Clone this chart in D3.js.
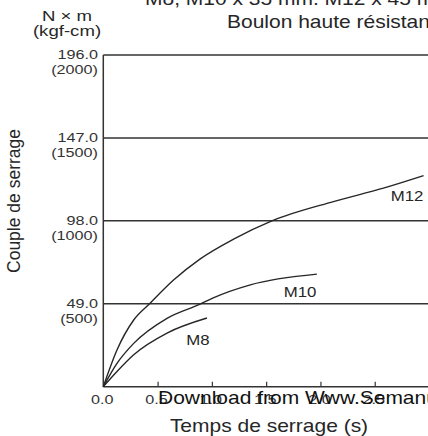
<!DOCTYPE html>
<html>
<head>
<meta charset="utf-8">
<script src="https://cdn.jsdelivr.net/npm/d3@7"></script>
<style>
  html, body { margin: 0; padding: 0; background: #fff; overflow: hidden; }
  svg { display: block; font-family: "Liberation Sans", Arial, sans-serif; }
</style>
</head>
<body>
<svg id="chart" width="428" height="436"></svg>
<script>
// Tightening time (s) vs tightening torque (N·m) for high-strength bolts
const timeTicks = [0, 0.5, 1, 1.5, 2, 2.5];
const torqueTicks = [49, 98, 147, 196];
const kgfTicks = [500, 1000, 1500, 2000];

const m8Time   = [0, 0.126, 0.28, 0.587, 0.955];
const m8Torque = [0, 9, 18.9, 31.7, 40.6];

const m10Time   = [0, 0.126, 0.28, 0.587, 0.892, 1.013, 1.355, 1.967];
const m10Torque = [0, 13.8, 25.6, 40.4, 48.8, 52.5, 60.2, 66.5];

const m12Time   = [0, 0.126, 0.28, 0.426, 0.647, 0.89, 1.2, 1.553, 2.12, 2.58, 2.95];
const m12Torque = [0, 21.7, 39.4, 49, 63, 75.4, 87.2, 98, 109.4, 117.3, 124.7];

const seriesNames = ["M8", "M10", "M12"];

const svg = d3.select("#chart");
const x = d3.scaleLinear().domain([0, 3]).range([103.3, 429]);
const y = d3.scaleLinear().domain([0, 196]).range([386.7, 55]);

const ink = "#262626";
const WIDE = 1.2; // horizontal stretch of the lettering

// horizontally widened text anchored at (px, py)
function label(parent, px, py, str, size, anchor, fill) {
  return parent.append("text")
    .attr("transform", `translate(${px},${py}) scale(${WIDE},1)`)
    .attr("text-anchor", anchor || "start")
    .attr("font-size", size)
    .attr("fill", fill || ink)
    .text(str);
}

// horizontal reference lines at each torque level
svg.append("g").selectAll("line").data(torqueTicks).join("line")
  .attr("x1", x(0)).attr("x2", 428)
  .attr("y1", d => y(d)).attr("y2", d => y(d))
  .attr("stroke", "#333").attr("stroke-width", 1.5);

// left (torque) axis line
svg.append("line")
  .attr("x1", x(0)).attr("x2", x(0))
  .attr("y1", y(196)).attr("y2", y(0))
  .attr("stroke", "#333").attr("stroke-width", 1.5);

// bottom (time) axis with inward ticks
const xAxis = d3.axisBottom(x).tickValues(timeTicks.filter(d => d > 0))
  .tickSize(-5).tickFormat("");
const gx = svg.append("g").attr("transform", `translate(0,${y(0)})`).call(xAxis);
gx.select(".domain").attr("stroke", "#333").attr("stroke-width", 1.5)
  .attr("d", `M${x(0)},0H428`);
gx.selectAll(".tick line").attr("stroke", "#333").attr("stroke-width", 1.2);

// time tick labels
const gt = svg.append("g");
timeTicks.forEach(d => label(gt, x(d) - 1, 404, d.toFixed(1), 13.5, "middle", "#333"));

// torque tick labels: N·m and kgf-cm
const gy = svg.append("g");
torqueTicks.forEach((d, i) => {
  label(gy, 98, y(d) + 4, d.toFixed(1), 13.5, "end", "#333");
  label(gy, 98, y(d) + 19, `(${kgfTicks[i]})`, 13.5, "end", "#333");
});

// unit labels
label(svg, 67, 21, "N × m", 15.5, "middle");
label(svg, 67, 36, "(kgf-cm)", 15.5, "middle");

// axis titles
svg.append("text")
  .attr("transform", `translate(20,201) rotate(-90)`)
  .attr("text-anchor", "middle").attr("font-size", 17.5).attr("fill", ink)
  .text("Couple de serrage");
label(svg, 269, 432, "Temps de serrage (s)", 17.5, "middle");

// header
label(svg, 145, 5, "M8, M10 x 35 mm. M12 x 45 mm", 17.5);
label(svg, 227, 28, "Boulon haute résistance", 17.5);

// curves
const line = d3.line().x(d => x(d[0])).y(d => y(d[1])).curve(d3.curveMonotoneX);
const series = [
  { name: seriesNames[0], pts: d3.zip(m8Time, m8Torque), lx: 198, ly: 345 },
  { name: seriesNames[1], pts: d3.zip(m10Time, m10Torque), lx: 300, ly: 297 },
  { name: seriesNames[2], pts: d3.zip(m12Time, m12Torque), lx: 407, ly: 201 }
];
svg.append("g").selectAll("path").data(series).join("path")
  .attr("d", d => line(d.pts))
  .attr("fill", "none").attr("stroke", ink).attr("stroke-width", 1.4);
const gl = svg.append("g");
series.forEach(s => label(gl, s.lx, s.ly, s.name, 14, "middle"));

// source line along the bottom
label(svg, 158, 404, "Download from Www.Semanual.com", 17.5, "start", "#111");
</script>
</body>
</html>
